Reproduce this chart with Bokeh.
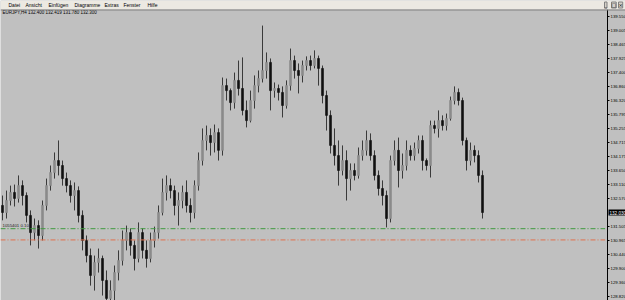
from bokeh.plotting import figure
from bokeh.models import (Range1d, FixedTicker, PrintfTickFormatter, Label,
                          BoxAnnotation, ColumnDataSource)
from bokeh.embed import file_html
from bokeh.resources import INLINE

# ---------------- data ----------------
symbol = "EURJPY,H4"
header_values = ["132.400", "132.419", "131.780", "132.300"]
menu_items = ["Datei", "Ansicht", "Einfügen", "Diagramme", "Extras", "Fenster", "Hilfe"]

opens = [
    132.30, 132.03, 132.49, 132.80, 132.57, 133.06, 132.68, 131.92, 131.26, 131.53,
    131.15, 132.30, 133.06, 133.56, 134.02, 133.83, 133.33, 133.06, 132.68, 132.87,
    131.92, 130.96, 130.38, 129.62, 130.12, 130.27, 129.43, 128.74, 129.04, 129.73,
    130.19, 130.96, 131.26, 130.77, 130.27, 131.26, 130.58, 130.27, 130.96, 131.26,
    132.03, 132.80, 133.06, 132.87, 132.30, 132.49, 132.80, 132.30, 132.03, 133.06,
    134.02, 134.79, 134.98, 134.71, 135.09, 134.41, 136.89, 136.70, 136.24, 137.09,
    136.78, 135.94, 135.55, 136.32, 136.89, 137.16, 137.47, 137.78, 136.70, 136.78,
    136.63, 136.13, 136.89, 137.85, 137.47, 137.28, 137.66, 137.85, 137.66, 137.93,
    137.55, 136.51, 135.75, 134.60, 134.21, 133.64, 134.02, 133.33, 133.64, 133.45,
    134.21, 134.41, 134.79, 134.21, 133.45, 132.95, 132.68, 131.80, 134.02, 134.41,
    133.64, 133.83, 134.41, 134.21, 134.48, 134.79, 134.02, 133.83, 135.36, 135.25,
    135.55, 135.36, 135.63, 136.32, 136.63, 136.32, 134.79, 134.02, 134.41, 134.21,
    133.45,
]
highs = [
    132.68, 132.87, 133.06, 133.10, 133.45, 133.26, 132.80, 132.11, 131.80, 131.73,
    132.49, 133.33, 133.83, 134.33, 134.79, 134.02, 133.56, 133.26, 133.18, 133.03,
    132.11, 131.15, 130.65, 130.38, 130.65, 130.38, 129.81, 129.43, 130.00, 130.58,
    131.34, 131.53, 131.42, 130.96, 131.65, 131.42, 130.96, 131.26, 131.49, 132.30,
    133.33, 133.45, 133.33, 133.06, 132.80, 133.06, 133.26, 132.57, 133.26, 134.33,
    135.25, 135.36, 135.25, 135.40, 135.25, 137.20, 137.16, 136.78, 137.39, 137.85,
    137.97, 136.32, 136.70, 137.28, 137.47, 139.19, 138.16, 137.93, 137.01, 136.93,
    136.86, 137.09, 138.31, 138.04, 137.74, 137.85, 138.01, 138.04, 138.24, 138.04,
    137.66, 136.70, 135.94, 135.25, 134.79, 134.60, 134.41, 133.91, 133.91, 134.52,
    134.79, 135.17, 135.06, 134.41, 133.64, 133.26, 132.87, 134.21, 134.79, 134.90,
    134.29, 134.79, 134.60, 134.71, 134.98, 134.98, 134.10, 135.55, 135.55, 135.94,
    135.75, 135.82, 136.47, 136.86, 136.78, 136.43, 134.90, 134.71, 134.60, 134.41,
    133.64,
]
lows = [
    131.73, 131.80, 132.30, 132.26, 132.41, 132.30, 131.65, 130.77, 130.96, 130.65,
    130.96, 132.11, 132.87, 133.33, 133.45, 133.06, 132.80, 132.41, 132.11, 131.65,
    130.58, 130.12, 129.23, 129.04, 129.73, 128.85, 128.47, 128.47, 128.66, 129.43,
    130.00, 130.58, 130.38, 129.81, 130.12, 130.27, 129.92, 130.12, 130.69, 131.03,
    131.92, 132.49, 132.57, 131.92, 131.53, 132.19, 132.03, 131.65, 131.80, 132.87,
    133.83, 134.41, 134.21, 134.33, 134.02, 134.21, 136.32, 135.94, 136.01, 136.51,
    135.75, 135.29, 135.48, 136.01, 136.63, 137.01, 137.16, 135.94, 136.43, 136.32,
    135.67, 136.01, 136.70, 137.16, 136.59, 137.01, 137.47, 137.47, 137.55, 136.89,
    136.21, 135.17, 134.29, 133.83, 133.06, 133.45, 132.49, 132.87, 133.26, 133.33,
    134.02, 134.21, 134.02, 133.26, 132.68, 132.30, 131.46, 131.65, 133.83, 132.99,
    133.33, 133.64, 134.02, 134.02, 134.29, 133.64, 133.64, 133.37, 135.06, 134.90,
    135.17, 135.17, 135.55, 136.17, 136.13, 134.60, 133.64, 133.83, 133.95, 133.18,
    131.80,
]
closes = [
    132.03, 132.49, 132.80, 132.57, 133.06, 132.68, 131.92, 131.26, 131.53, 131.15,
    132.30, 133.06, 133.56, 134.02, 133.83, 133.33, 133.06, 132.68, 132.87, 131.92,
    130.96, 130.38, 129.62, 130.12, 130.27, 129.43, 128.74, 129.04, 129.73, 130.19,
    130.96, 131.26, 130.77, 130.27, 131.26, 130.58, 130.27, 130.96, 131.26, 132.03,
    132.80, 133.06, 132.87, 132.30, 132.49, 132.80, 132.30, 132.03, 133.06, 134.02,
    134.79, 134.98, 134.71, 135.09, 134.41, 136.89, 136.70, 136.24, 137.09, 136.78,
    135.94, 135.55, 136.32, 136.89, 137.16, 137.47, 137.78, 136.70, 136.78, 136.63,
    136.13, 136.89, 137.85, 137.47, 137.28, 137.66, 137.85, 137.66, 137.93, 137.55,
    136.51, 135.75, 134.60, 134.21, 133.64, 134.02, 133.33, 133.64, 133.45, 134.21,
    134.41, 134.79, 134.21, 133.45, 132.95, 132.68, 131.80, 134.02, 134.41, 133.64,
    133.83, 134.41, 134.21, 134.48, 134.79, 134.02, 133.83, 135.36, 135.25, 135.55,
    135.36, 135.63, 136.32, 136.63, 136.32, 134.79, 134.02, 134.41, 134.21, 133.45,
    132.03,
]
price_ticks = [139.550, 139.005, 138.465, 137.925, 137.400, 136.860, 136.320,
               135.795, 135.255, 134.715, 134.175, 133.650, 133.110, 132.570,
               131.505, 130.965, 130.440, 129.900, 129.360, 128.820]
level_lines = [131.41, 130.98]
level_label = "1055401 0.10"

# ---------------- layout / style ----------------
W, H = 625, 300
MENU_H = 9
BAR_PX = 4.0            # pixels per bar
AXIS_PX = 607           # x pixel of the price-axis line
BG = "#C0C0C0"
Y_LO, Y_HI = 128.66, 140.15      # price at bottom / top of the canvas
Y_CHART_TOP = 139.805            # price at the lower edge of the menu bar
level_colors = ["#3f9a3f", "#e0714f"]
menu_x = [8, 25, 48, 74, 104, 123, 147]

x_lo = -0.5
x_hi = x_lo + W / BAR_PX
x_axis = x_lo + AXIS_PX / BAR_PX

p = figure(width=W, height=H, output_backend="svg", toolbar_location=None,
           x_range=Range1d(x_lo, x_hi), y_range=Range1d(Y_LO, Y_HI),
           x_axis_location=None, y_axis_location="right",
           min_border_left=0, min_border_right=0, min_border_top=0,
           min_border_bottom=0, background_fill_color=BG, border_fill_color=BG,
           outline_line_color=None)
p.grid.visible = False

ax = p.yaxis[0]
ax.fixed_location = x_axis
ax.bounds = (Y_LO, Y_CHART_TOP)
ax.ticker = FixedTicker(ticks=price_ticks)
ax.formatter = PrintfTickFormatter(format="%.3f")
ax.axis_line_color = "#000000"
ax.axis_line_width = 1
ax.major_tick_line_color = "#000000"
ax.major_tick_out = 2
ax.major_tick_in = 0
ax.minor_tick_line_color = None
ax.major_label_standoff = 1
ax.major_label_text_font = "Liberation Sans"
ax.major_label_text_font_size = "4.3px"
ax.major_label_text_color = "#000000"

# candles
n = len(closes)
xs = list(range(n))
tops = [max(o, c) for o, c in zip(opens, closes)]
bots = [min(o, c) for o, c in zip(opens, closes)]
fills = ["#8a8a8a" if c >= o else "#101010" for o, c in zip(opens, closes)]
src = ColumnDataSource(dict(x=xs, h=highs, l=lows, top=tops, bottom=bots, fill=fills))
p.segment("x", "h", "x", "l", source=src, line_color="#3a3a3a", line_width=1)
p.vbar(x="x", width=0.5, top="top", bottom="bottom", source=src,
       fill_color="fill", line_color="fill", line_width=0.6)

# horizontal levels (stop at the price axis)
p.segment(x0=[x_lo] * len(level_lines), y0=level_lines,
          x1=[x_axis - 0.6] * len(level_lines), y1=level_lines,
          line_color=level_colors, line_width=1, line_dash="5 2 1 2")
p.add_layout(Label(x=2, x_units="screen", y=level_lines[0], text=level_label,
                   text_font="Liberation Sans", text_font_size="4.3px",
                   text_color="#202020", text_baseline="bottom", y_offset=1))

# header
p.add_layout(Label(x=2, y=H - 12, x_units="screen", y_units="screen",
                   text=symbol + "  " + " ".join(header_values),
                   text_font="Liberation Sans", text_font_size="4.5px",
                   text_color="#000000", text_baseline="middle"))

# current price box on the axis
p.add_layout(Label(x=AXIS_PX + 1, x_units="screen", y=closes[-1],
                   text="%.3f" % closes[-1],
                   text_font="Liberation Sans", text_font_size="4.6px",
                   text_color="#ffffff", text_baseline="middle",
                   background_fill_color="#000000", background_fill_alpha=1.0,
                   padding=1))

# menu bar
FH = H - MENU_H
p.add_layout(BoxAnnotation(left=0, right=W, bottom=FH, top=H,
                           left_units="screen", right_units="screen",
                           bottom_units="screen", top_units="screen",
                           fill_color="#ECE9E2", fill_alpha=1.0, line_color=None,
                           level="overlay"))
p.add_layout(BoxAnnotation(left=0, right=W, bottom=FH - 1, top=FH,
                           left_units="screen", right_units="screen",
                           bottom_units="screen", top_units="screen",
                           fill_color="#808080", fill_alpha=1.0, line_color=None,
                           level="overlay"))
for mx, item in zip(menu_x, menu_items):
    p.add_layout(Label(x=mx, y=FH + 4.5, x_units="screen", y_units="screen",
                       text=item, text_font="Liberation Sans", text_font_size="5px",
                       text_color="#000000", text_baseline="middle", level="overlay"))
for bx, glyph in zip([604, 611, 618], ["_", "□", "×"]):
    p.add_layout(Label(x=bx, y=FH + 4.5, x_units="screen", y_units="screen",
                       text=glyph, text_font="DejaVu Sans", text_font_size="5px",
                       text_color="#000000", text_baseline="middle",
                       background_fill_color="#D4D0C8", background_fill_alpha=1.0,
                       border_line_color="#808080", level="overlay"))

open("out.html", "w").write(file_html(p, INLINE))
